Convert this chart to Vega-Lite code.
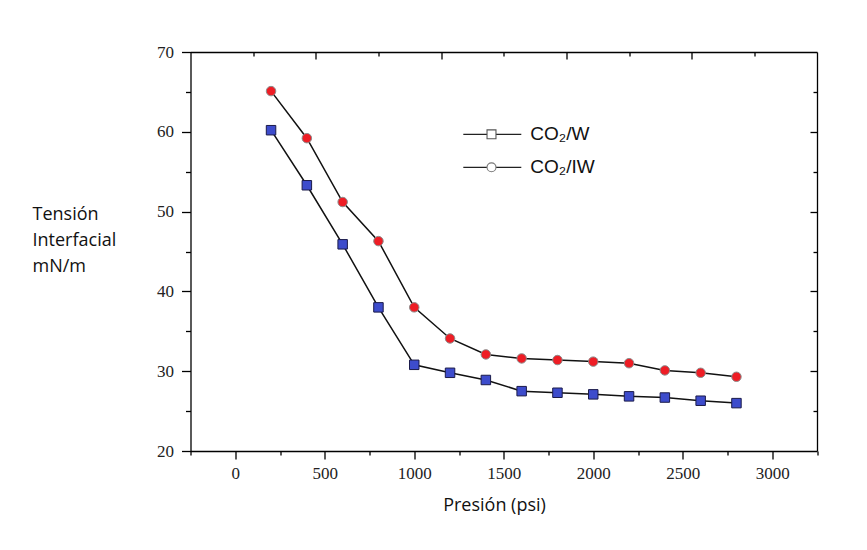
{
  "$schema": "https://vega.github.io/schema/vega-lite/v6.json",
  "width": 626.5,
  "height": 399,
  "autosize": "none",
  "padding": {"left": 190.5, "top": 52, "right": 50, "bottom": 99},
  "background": "white",
  "data": {
    "values": [
      {"p": 200, "t": 60.2, "s": "CO₂/W"},
      {"p": 400, "t": 53.3, "s": "CO₂/W"},
      {"p": 600, "t": 45.9, "s": "CO₂/W"},
      {"p": 800, "t": 38.0, "s": "CO₂/W"},
      {"p": 1000, "t": 30.8, "s": "CO₂/W"},
      {"p": 1200, "t": 29.8, "s": "CO₂/W"},
      {"p": 1400, "t": 28.9, "s": "CO₂/W"},
      {"p": 1600, "t": 27.5, "s": "CO₂/W"},
      {"p": 1800, "t": 27.3, "s": "CO₂/W"},
      {"p": 2000, "t": 27.1, "s": "CO₂/W"},
      {"p": 2200, "t": 26.85, "s": "CO₂/W"},
      {"p": 2400, "t": 26.7, "s": "CO₂/W"},
      {"p": 2600, "t": 26.3, "s": "CO₂/W"},
      {"p": 2800, "t": 26.0, "s": "CO₂/W"},
      {"p": 200, "t": 65.1, "s": "CO₂/IW"},
      {"p": 400, "t": 59.2, "s": "CO₂/IW"},
      {"p": 600, "t": 51.2, "s": "CO₂/IW"},
      {"p": 800, "t": 46.3, "s": "CO₂/IW"},
      {"p": 1000, "t": 38.0, "s": "CO₂/IW"},
      {"p": 1200, "t": 34.1, "s": "CO₂/IW"},
      {"p": 1400, "t": 32.1, "s": "CO₂/IW"},
      {"p": 1600, "t": 31.6, "s": "CO₂/IW"},
      {"p": 1800, "t": 31.4, "s": "CO₂/IW"},
      {"p": 2000, "t": 31.2, "s": "CO₂/IW"},
      {"p": 2200, "t": 31.0, "s": "CO₂/IW"},
      {"p": 2400, "t": 30.1, "s": "CO₂/IW"},
      {"p": 2600, "t": 29.8, "s": "CO₂/IW"},
      {"p": 2800, "t": 29.3, "s": "CO₂/IW"}
    ]
  },
  "layer": [
    {
      "mark": {"type": "line", "color": "#111", "strokeWidth": 1.5},
      "encoding": {
        "x": {
          "field": "p", "type": "quantitative",
          "scale": {"domain": [-250, 3250], "nice": false, "zero": false},
          "axis": {
            "orient": "bottom",
            "values": [-250, 0, 250, 500, 750, 1000, 1250, 1500, 1750, 2000, 2250, 2500, 2750, 3000, 3250],
            "format": "d",
            "labelExpr": "datum.value % 500 === 0 ? datum.label : ''",
            "tickSize": {"condition": {"test": "datum.value % 500 === 0", "value": 8}, "value": 4},
            "labelPadding": 6,
            "labelFont": "Liberation Serif",
            "labelFontSize": 17,
            "labelColor": "#222",
            "labelFlush": false,
            "labelOverlap": false,
            "grid": false,
            "domainColor": "#000",
            "domainWidth": 1.3,
            "tickColor": "#000",
            "tickWidth": 1.3,
            "title": "Presión (psi)",
            "titleFont": "Open Sans",
            "titleFontSize": 18,
            "titleFontWeight": "normal",
            "titleColor": "#111",
            "titleX": 303.5,
            "titleY": 59,
            "titleAlign": "center",
            "titleBaseline": "alphabetic"
          }
        },
        "y": {
          "field": "t", "type": "quantitative",
          "scale": {"domain": [20, 70], "nice": false, "zero": false},
          "axis": {
            "orient": "left",
            "values": [20, 25, 30, 35, 40, 45, 50, 55, 60, 65, 70],
            "labelExpr": "datum.value % 10 === 0 ? datum.label : ''",
            "tickSize": {"condition": {"test": "datum.value % 10 === 0", "value": 9}, "value": 5},
            "labelPadding": 8,
            "labelFont": "Liberation Serif",
            "labelFontSize": 17,
            "labelColor": "#222",
            "labelFlush": false,
            "labelOverlap": false,
            "grid": false,
            "domainColor": "#000",
            "domainWidth": 1.3,
            "tickColor": "#000",
            "tickWidth": 1.3,
            "title": ["Tensión", "Interfacial", "mN/m"],
            "titleFont": "Open Sans",
            "titleFontSize": 18,
            "titleFontWeight": "normal",
            "titleColor": "#111",
            "titleAngle": 0,
            "titleAlign": "left",
            "titleBaseline": "alphabetic",
            "titleX": -158.5,
            "titleY": 167.3,
            "titleLineHeight": 26
          }
        },
        "detail": {"field": "s", "type": "nominal"}
      }
    },
    {
      "mark": {"type": "point", "filled": true, "size": 90, "strokeWidth": 1, "opacity": 1},
      "encoding": {
        "x": {
          "field": "p", "type": "quantitative",
          "axis": {
            "orient": "top",
            "values": [100, 450, 800, 1150, 1500, 1850, 2200, 2550, 2900],
            "labels": false,
            "tickSize": {"condition": {"test": "indexof([450, 1150, 1850, 2550], datum.value) >= 0", "value": -7}, "value": -4},
            "grid": false,
            "domainColor": "#000",
            "domainWidth": 1.3,
            "tickColor": "#000",
            "tickWidth": 1.3,
            "title": null
          }
        },
        "y": {
          "field": "t", "type": "quantitative",
          "axis": {
            "orient": "right",
            "values": [25, 30, 35, 40, 45, 50, 55, 60, 65],
            "labels": false,
            "tickSize": {"condition": {"test": "datum.value % 10 === 0", "value": -7}, "value": -4},
            "grid": false,
            "domainColor": "#000",
            "domainWidth": 1.3,
            "tickColor": "#000",
            "tickWidth": 1.3,
            "title": null
          }
        },
        "shape": {
          "field": "s", "type": "nominal",
          "scale": {"domain": ["CO₂/W", "CO₂/IW"], "range": ["square", "circle"]},
          "legend": null
        },
        "fill": {
          "field": "s", "type": "nominal",
          "scale": {"domain": ["CO₂/W", "CO₂/IW"], "range": ["#3d4ccc", "#ee1d25"]},
          "legend": null
        },
        "stroke": {
          "field": "s", "type": "nominal",
          "scale": {"domain": ["CO₂/W", "CO₂/IW"], "range": ["#1b1b4a", "#8c8c8c"]},
          "legend": null
        }
      }
    },
    {
      "transform": [{"filter": "false"}],
      "mark": {"type": "point", "filled": false, "strokeWidth": 1.3, "opacity": 1},
      "encoding": {
        "x": {"field": "p", "type": "quantitative", "axis": null},
        "y": {"field": "t", "type": "quantitative", "axis": null},
        "shape": {
          "field": "s", "type": "nominal",
          "scale": {"domain": ["CO₂/W", "CO₂/IW"], "range": ["stroke", "stroke"]},
          "legend": {
            "orient": "none",
            "legendX": 271.8,
            "legendY": 67.3,
            "title": null,
            "padding": 0,
            "symbolSize": 3364,
            "symbolOpacity": 1,
            "symbolStrokeWidth": 1.3,
            "clipHeight": 30,
            "rowPadding": 3,
            "labelOffset": 8,
            "labelFont": "Liberation Sans",
            "labelFontSize": 19,
            "labelColor": "#111",
            "labelLimit": 0
          }
        },
        "stroke": {
          "field": "s", "type": "nominal",
          "scale": {"domain": ["CO₂/W", "CO₂/IW"], "range": ["#222", "#222"]},
          "legend": null
        }
      }
    },
    {
      "transform": [{"filter": "false"}],
      "mark": {"type": "point", "filled": true, "strokeWidth": 1.1, "opacity": 1},
      "encoding": {
        "x": {"field": "p", "type": "quantitative", "axis": null},
        "y": {"field": "t", "type": "quantitative", "axis": null},
        "shape": {
          "field": "s", "type": "nominal",
          "scale": {"domain": ["CO₂/W", "CO₂/IW"], "range": ["square", "circle"]},
          "legend": {
            "orient": "none",
            "legendX": 291.5,
            "legendY": 67.3,
            "title": null,
            "padding": 0,
            "symbolSize": 80,
            "symbolOpacity": 1,
            "symbolStrokeWidth": 1.1,
            "clipHeight": 30,
            "rowPadding": 3,
            "labelOffset": 0,
            "labelFontSize": 19,
            "labelExpr": "''",
            "labelLimit": 0
          }
        },
        "fill": {
          "field": "s", "type": "nominal",
          "scale": {"domain": ["CO₂/W", "CO₂/IW"], "range": ["#ffffff", "#ffffff"]},
          "legend": null
        },
        "stroke": {
          "field": "s", "type": "nominal",
          "scale": {"domain": ["CO₂/W", "CO₂/IW"], "range": ["#555555", "#777777"]},
          "legend": null
        }
      }
    }
  ],
  "resolve": {
    "axis": {"x": "independent", "y": "independent"},
    "scale": {"shape": "independent", "fill": "independent", "stroke": "independent"},
    "legend": {"shape": "independent"}
  },
  "config": {"view": {"stroke": null}}
}
